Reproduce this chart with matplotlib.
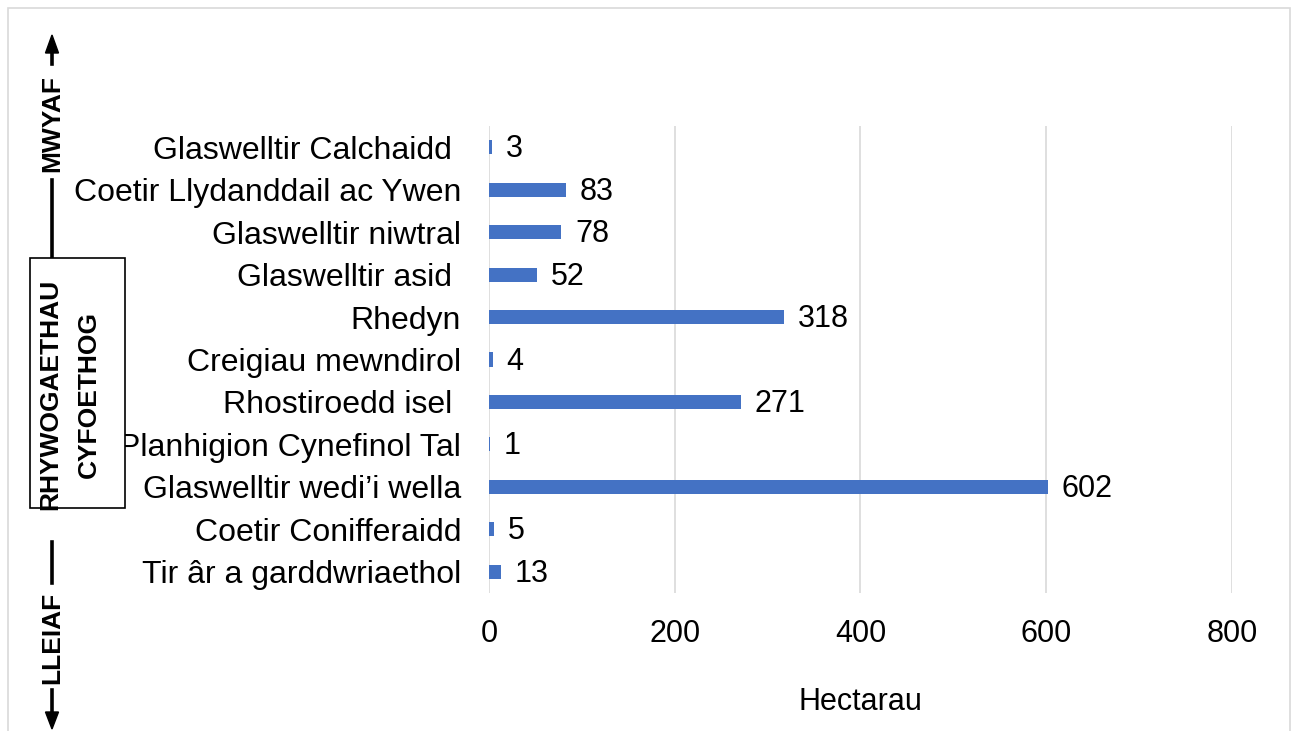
import matplotlib.pyplot as plt
from matplotlib.patches import Rectangle, Polygon
from matplotlib.lines import Line2D

plt.rcParams['font.family'] = ['Liberation Sans', 'DejaVu Sans']

# Data (top to bottom as shown)
categories = [
    "Glaswelltir Calchaidd ",
    "Coetir Llydanddail ac Ywen",
    "Glaswelltir niwtral",
    "Glaswelltir asid ",
    "Rhedyn",
    "Creigiau mewndirol",
    "Rhostiroedd isel ",
    "Planhigion Cynefinol Tal",
    "Glaswelltir wedi\u2019i wella",
    "Coetir Conifferaidd",
    "Tir \u00e2r a garddwriaethol",
]
hectares = [3, 83, 78, 52, 318, 4, 271, 1, 602, 5, 13]
x_ticks = [0, 200, 400, 600, 800]

W, H = 1292, 731
fig = plt.figure(figsize=(W / 100, H / 100), dpi=100)


def fx(px):
    return px / W


def fy(py):
    return 1 - py / H


# outer border
fig.add_artist(Rectangle((fx(8), fy(740)), fx(1282), 732 / H, transform=fig.transFigure,
                         fill=False, edgecolor='#d9d9d9', linewidth=1.2))

ax = fig.add_axes([fx(489), fy(593), fx(1232) - fx(489), fy(126) - fy(593)])

y = list(range(len(categories)))[::-1]
ax.barh(y, hectares, height=0.33, color='#4472C4', zorder=3)
for yi, v in zip(y, hectares):
    ax.annotate(str(v), (v, yi), xytext=(10, -1.5), textcoords='offset points',
                va='center', ha='left', fontsize=22, zorder=4)

ax.set_yticks(y)
ax.set_yticklabels(categories, fontsize=23)
ax.set_ylim(-0.5, len(categories) - 0.5)
ax.set_xlim(0, 800)
ax.set_xticks(x_ticks)
ax.set_xticklabels([str(t) for t in x_ticks], fontsize=22)
ax.tick_params(axis='both', length=0)
ax.tick_params(axis='y', pad=20)
ax.tick_params(axis='x', pad=19)
ax.grid(axis='x', color='#d9d9d9', linewidth=1.2, zorder=0)
for s in ax.spines.values():
    s.set_visible(False)
ax.set_xlabel("Hectarau", fontsize=22, labelpad=27)

# left-hand scale annotation
ax_x = 52
for y0, y1 in [(50, 64), (180, 258), (542, 583), (690, 715)]:
    fig.add_artist(Line2D([fx(ax_x), fx(ax_x)], [fy(y0), fy(y1)], transform=fig.transFigure,
                          color='black', linewidth=2.6))
fig.add_artist(Polygon([[fx(ax_x), fy(35)], [fx(ax_x - 6.5), fy(53)], [fx(ax_x + 6.5), fy(53)]],
                       closed=True, transform=fig.transFigure, color='black'))
fig.add_artist(Polygon([[fx(ax_x), fy(729)], [fx(ax_x - 6.5), fy(712)], [fx(ax_x + 6.5), fy(712)]],
                       closed=True, transform=fig.transFigure, color='black'))
fig.add_artist(Rectangle((fx(30), fy(508)), fx(95), 250 / H, transform=fig.transFigure,
                         facecolor='white', edgecolor='black', linewidth=1.2, zorder=3))
fig.text(fx(ax_x), fy(124), "MWYAF", rotation=90, ha='center', va='center',
         fontsize=19, fontweight='bold', zorder=4)
fig.text(fx(50), fy(394), "RHYWOGAETHAU", rotation=90, ha='center', va='center',
         fontsize=19, fontweight='bold', zorder=4)
fig.text(fx(89), fy(395), "CYFOETHOG", rotation=90, ha='center', va='center',
         fontsize=19, fontweight='bold', zorder=4)
fig.text(fx(ax_x), fy(638), "LLEIAF", rotation=90, ha='center', va='center',
         fontsize=19, fontweight='bold', zorder=4)

fig.savefig('out.png', dpi=100)
